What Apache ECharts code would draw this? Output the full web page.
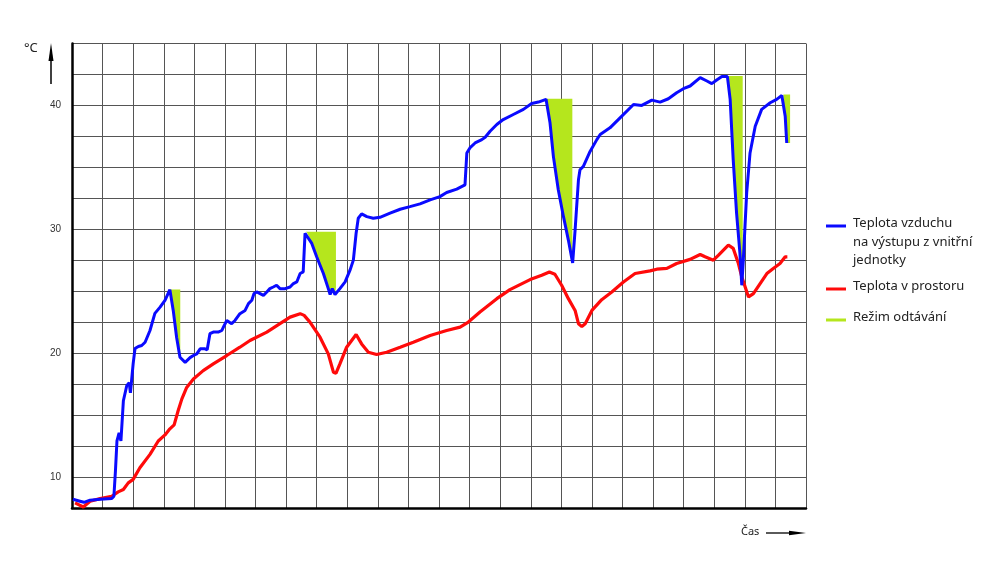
<!DOCTYPE html>
<html>
<head>
<meta charset="utf-8">
<script src="https://cdn.jsdelivr.net/npm/echarts@6/dist/echarts.min.js"></script>
<style>
html,body{margin:0;padding:0;background:#fff;}
#chart{width:1000px;height:580px;}
</style>
</head>
<body>
<div id="chart"></div>
<script>
// ---- data (x in time-grid units 0..24, y in °C) ----
var blueTime = [0.03,0.26,0.39,0.59,0.92,1.30,1.37,1.42,1.47,1.54,1.60,1.68,1.79,1.87,1.91,2.00,2.06,2.17,2.28,2.39,2.55,2.71,2.88,3.04,3.20,3.31,3.42,3.53,3.70,3.86,3.97,4.08,4.19,4.35,4.42,4.51,4.62,4.78,4.90,4.95,5.06,5.11,5.22,5.33,5.49,5.66,5.77,5.88,5.95,6.04,6.15,6.26,6.37,6.47,6.58,6.69,6.80,6.97,7.13,7.24,7.35,7.46,7.56,7.62,7.68,7.84,8.00,8.22,8.38,8.44,8.51,8.60,8.76,8.93,9.09,9.20,9.29,9.36,9.47,9.64,9.85,10.07,10.40,10.73,11.05,11.38,11.71,12.03,12.25,12.58,12.85,12.91,13.01,13.18,13.40,13.51,13.67,13.89,14.10,14.43,14.76,15.03,15.25,15.50,15.63,15.74,15.90,16.07,16.23,16.37,16.45,16.56,16.61,16.72,16.94,17.16,17.27,17.59,17.92,18.36,18.63,18.96,19.23,19.50,19.77,19.99,20.21,20.54,20.76,20.92,21.08,21.25,21.43,21.52,21.62,21.73,21.84,21.90,21.95,22.06,22.17,22.34,22.55,22.83,23.04,23.21,23.26,23.32,23.37];
var blueTemp = [8.21,8.05,7.96,8.13,8.21,8.26,8.45,10.48,12.91,13.56,12.91,16.16,17.37,17.62,16.80,19.16,20.37,20.54,20.62,20.88,21.83,23.21,23.72,24.27,25.13,23.45,21.29,19.67,19.26,19.64,19.81,19.94,20.35,20.35,20.27,21.57,21.70,21.70,21.83,22.10,22.64,22.51,22.38,22.64,23.19,23.45,24.00,24.27,24.81,24.94,24.81,24.67,24.94,25.21,25.34,25.48,25.21,25.21,25.34,25.62,25.75,26.43,26.56,29.68,29.76,28.86,27.78,26.43,25.21,24.73,25.21,24.73,25.21,25.75,26.70,27.51,29.68,30.89,31.24,31.02,30.89,30.97,31.30,31.62,31.83,32.05,32.38,32.64,32.97,33.24,33.59,36.16,36.57,36.97,37.24,37.43,37.92,38.46,38.86,39.27,39.68,40.16,40.27,40.49,38.60,35.89,33.19,31.02,29.13,27.29,29.94,34.00,34.81,35.08,36.29,37.24,37.65,38.19,39.00,40.08,40.00,40.43,40.27,40.54,41.03,41.35,41.57,42.25,41.97,41.76,42.05,42.33,42.33,40.49,35.62,31.30,28.05,25.48,27.51,32.92,36.16,38.32,39.68,40.22,40.49,40.81,40.75,39.13,36.97];

var redTime = [0.10,0.37,0.59,0.92,1.30,1.51,1.68,1.84,2.00,2.22,2.55,2.82,3.04,3.20,3.34,3.47,3.59,3.75,3.97,4.29,4.62,5.06,5.49,5.82,6.37,6.80,7.13,7.46,7.59,7.78,8.11,8.38,8.55,8.63,8.76,8.98,9.29,9.47,9.69,9.96,10.29,10.73,11.16,11.71,12.25,12.69,12.96,13.34,13.89,14.32,14.98,15.36,15.61,15.79,16.01,16.23,16.45,16.56,16.67,16.78,17.00,17.32,17.65,18.03,18.41,18.90,19.12,19.45,19.77,20.21,20.54,20.70,20.97,21.14,21.46,21.62,21.79,21.90,22.12,22.28,22.50,22.72,22.93,23.15,23.32,23.39];
var redTemp = [7.91,7.58,8.05,8.26,8.45,8.80,8.99,9.53,9.81,10.75,11.83,12.91,13.40,13.89,14.21,15.35,16.29,17.23,17.92,18.59,19.13,19.81,20.48,21.02,21.70,22.38,22.91,23.19,23.05,22.51,21.29,19.94,18.45,18.37,19.13,20.48,21.51,20.75,20.07,19.89,20.07,20.48,20.89,21.43,21.83,22.10,22.51,23.32,24.40,25.13,25.94,26.29,26.56,26.37,25.48,24.40,23.45,22.38,22.16,22.38,23.45,24.32,24.94,25.75,26.43,26.64,26.78,26.84,27.24,27.57,27.97,27.78,27.51,27.92,28.73,28.46,27.24,26.16,24.54,24.81,25.62,26.43,26.84,27.24,27.78,27.78];

// defrost (Režim odtávání) windows
var defrostStart  = [3.20, 7.64, 15.50, 21.43, 23.26];
var defrostEnd    = [3.54, 8.63, 16.36, 21.93, 23.48];
var defrostTop    = [25.13, 29.81, 40.54, 42.38, 40.89];
var defrostBottom = [19.90, 25.30, 27.30, 25.50, 36.97];

var yLabelValues = [10, 20, 30, 40];

var seriesNames = ['Teplota vzduchu na výstupu z vnitřní jednotky', 'Teplota v prostoru', 'Režim odtávání'];
var legendLines = [['Teplota vzduchu', 'na výstupu z vnitřní', 'jednotky'], ['Teplota v prostoru'], ['Režim odtávání']];
var xAxisName = 'Čas';
var yAxisName = '°C';

// ---- build ----
var blueData = blueTime.map(function (t, i) { return [t, blueTemp[i]]; });
var redData = redTime.map(function (t, i) { return [t, redTemp[i]]; });
var defrostData = defrostStart.map(function (s, i) { return [s, defrostEnd[i], defrostTop[i], defrostBottom[i]]; });

var BLUE = '#0a0aff', RED = '#ff0a0a', GREEN = '#b5e61d';

function renderDefrost(params, api) {
  var xs = api.value(0), xe = api.value(1), top = api.value(2), bot = api.value(3);
  var pts = [api.coord([xs, top]), api.coord([xe, top]), api.coord([xe, bot])];
  for (var i = blueTime.length - 1; i >= 0; i--) {
    if (blueTime[i] >= xs - 0.001 && blueTime[i] <= xe + 0.001) {
      pts.push(api.coord([blueTime[i], blueTemp[i]]));
    }
  }
  return { type: 'polygon', shape: { points: pts }, style: { fill: GREEN } };
}

var chart = echarts.init(document.getElementById('chart'), null, { renderer: 'canvas' });

var legendGraphics = [];
var legendY = [226, 289, 320];
var legendColors = [BLUE, RED, GREEN];
legendLines.forEach(function (lines, k) {
  legendGraphics.push({
    type: 'line', shape: { x1: 826, y1: legendY[k], x2: 846, y2: legendY[k] },
    style: { stroke: legendColors[k], lineWidth: 3 }, silent: true
  });
  lines.forEach(function (txt, j) {
    legendGraphics.push({
      type: 'text', left: 853, top: legendY[k] - 9 + j * 18.5,
      style: { text: txt, fill: '#222', font: '13px "Noto Sans", "Open Sans", sans-serif' }, silent: true
    });
  });
});

var option = {
  animation: false,
  backgroundColor: '#ffffff',
  grid: { left: 72, right: 194, top: 43.5, bottom: 72, containLabel: false },
  xAxis: {
    type: 'value', min: 0, max: 24, interval: 1,
    axisLine: { show: true, onZero: false, lineStyle: { color: '#000', width: 2.5 } },
    axisTick: { show: false },
    axisLabel: { show: false },
    splitLine: { show: true, lineStyle: { color: '#555', width: 1 } }
  },
  yAxis: {
    type: 'value', min: 7.5, max: 45, interval: 2.5,
    axisLine: { show: true, onZero: false, lineStyle: { color: '#000', width: 2.5 } },
    axisTick: { show: false },
    axisLabel: {
      show: true, margin: 11, color: '#333', fontSize: 10, fontFamily: 'Liberation Sans, Arial, sans-serif',
      formatter: function (v) { return yLabelValues.indexOf(v) >= 0 ? String(v) : ''; }
    },
    splitLine: { show: true, lineStyle: { color: '#555', width: 1 } }
  },
  series: [
    {
      name: seriesNames[2], type: 'custom', renderItem: renderDefrost,
      data: defrostData, encode: { x: [0, 1], y: [2, 3] }, z: 1, silent: true
    },
    {
      name: seriesNames[0], type: 'line', data: blueData, showSymbol: false, symbol: 'none',
      lineStyle: { color: BLUE, width: 3 }, itemStyle: { color: BLUE }, z: 3
    },
    {
      name: seriesNames[1], type: 'line', data: redData, showSymbol: false, symbol: 'none',
      lineStyle: { color: RED, width: 3.2 }, itemStyle: { color: RED }, z: 2
    }
  ],
  graphic: legendGraphics.concat([
    { type: 'text', left: 24, top: 42, style: { text: yAxisName, fill: '#222', font: '13px "Noto Sans", sans-serif' }, silent: true },
    { type: 'line', shape: { x1: 51, y1: 84, x2: 51, y2: 56 }, style: { stroke: '#000', lineWidth: 1.5 }, silent: true },
    { type: 'polygon', shape: { points: [[51, 43], [48.5, 61], [53.5, 61]] }, style: { fill: '#000' }, silent: true },
    { type: 'text', left: 741, top: 526, style: { text: xAxisName, fill: '#222', font: '11px "Noto Sans", sans-serif' }, silent: true },
    { type: 'line', shape: { x1: 766, y1: 533, x2: 796, y2: 533 }, style: { stroke: '#000', lineWidth: 1.3 }, silent: true },
    { type: 'polygon', shape: { points: [[806, 533], [789, 530.8], [789, 535.2]] }, style: { fill: '#000' }, silent: true }
  ])
};
chart.setOption(option);
</script>
</body>
</html>
